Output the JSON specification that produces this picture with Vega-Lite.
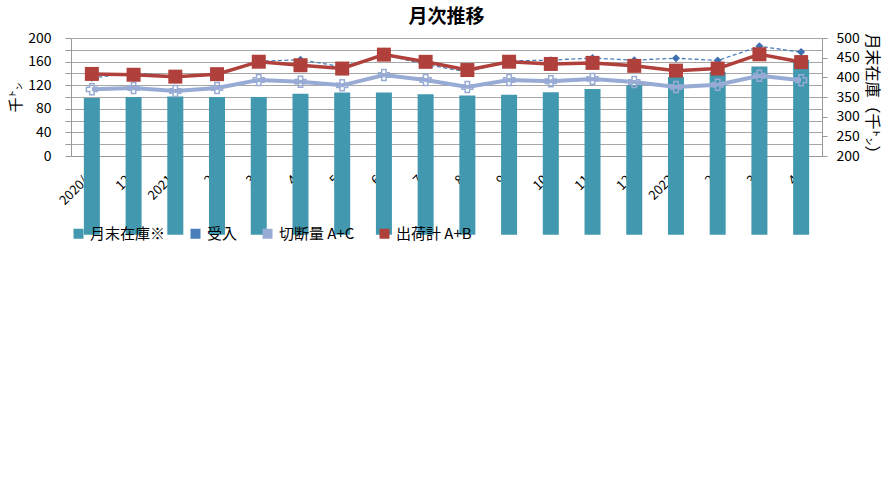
{
  "$schema": "https://vega.github.io/schema/vega-lite/v6.json",
  "width": 896,
  "height": 492,
  "autosize": {"type": "fit", "contains": "padding"},
  "padding": {"left": 8, "top": 8, "right": 16, "bottom": 8},
  "background": "white",
  "config": {
    "view": {"stroke": null},
    "axis": {"domainColor": "#999999", "tickColor": "#999999", "labelColor": "#000000", "titleColor": "#000000", "labelFont": "Noto Sans CJK JP", "titleFont": "Noto Sans CJK JP", "gridColor": "#a6a6a6"},
    "legend": {"labelFont": "Noto Sans CJK JP"}
  },
  "title": {"text": "月次推移", "font": "Noto Sans CJK JP", "fontSize": 19, "fontWeight": "bold", "color": "#000000"},
  "data": {"values": [
    {"m": "2020/11", "stock": 347.7, "uke": 132.5, "cut": 113.0, "ship": 139.1},
    {"m": "2020/12", "stock": 350.1, "uke": 140.9, "cut": 115.2, "ship": 137.7},
    {"m": "2021/1", "stock": 351.0, "uke": 135.0, "cut": 110.2, "ship": 134.5},
    {"m": "2021/2", "stock": 350.1, "uke": 138.5, "cut": 115.2, "ship": 138.7},
    {"m": "2021/3", "stock": 350.1, "uke": 160.5, "cut": 128.8, "ship": 159.8},
    {"m": "2021/4", "stock": 358.5, "uke": 163.2, "cut": 126.0, "ship": 153.8},
    {"m": "2021/5", "stock": 361.2, "uke": 151.2, "cut": 119.8, "ship": 148.2},
    {"m": "2021/6", "stock": 361.2, "uke": 171.5, "cut": 137.3, "ship": 171.8},
    {"m": "2021/7", "stock": 357.3, "uke": 155.2, "cut": 128.8, "ship": 159.6},
    {"m": "2021/8", "stock": 354.0, "uke": 142.3, "cut": 116.8, "ship": 145.7},
    {"m": "2021/9", "stock": 355.8, "uke": 161.2, "cut": 128.8, "ship": 159.8},
    {"m": "2021/10", "stock": 362.1, "uke": 162.4, "cut": 126.7, "ship": 156.0},
    {"m": "2021/11", "stock": 370.4, "uke": 166.0, "cut": 130.7, "ship": 157.8},
    {"m": "2021/12", "stock": 380.0, "uke": 162.4, "cut": 125.4, "ship": 152.8},
    {"m": "2022/1", "stock": 400.9, "uke": 165.8, "cut": 116.8, "ship": 144.7},
    {"m": "2022/2", "stock": 413.8, "uke": 161.8, "cut": 120.8, "ship": 148.2},
    {"m": "2022/3", "stock": 427.7, "uke": 185.9, "cut": 136.1, "ship": 172.4},
    {"m": "2022/4", "stock": 444.5, "uke": 176.1, "cut": 128.4, "ship": 159.2}
  ]},
  "layer": [
    {
      "mark": {"type": "bar", "color": "#4298AF", "width": 16},
      "encoding": {
        "x": {"field": "m", "type": "ordinal", "sort": null,
          "axis": {"title": null, "labelAngle": -45, "labelFontSize": 13, "tickSize": 6, "grid": false,
            "labelExpr": "slice(datum.value, -2) == '/1' || datum.value == '2020/11' ? datum.value : slice(datum.value, indexof(datum.value, '/') + 1) + '月'"}},
        "y": {"field": "stock", "type": "quantitative", "scale": {"domain": [200, 500], "zero": false, "nice": false},
          "axis": {"orient": "right", "values": [200, 250, 300, 350, 400, 450, 500], "grid": false, "tickSize": 5, "labelPadding": 9, "labelFontSize": 14,
            "title": "月末在庫（千㌧）", "titleFontSize": 16, "titleFontWeight": "normal"}}
      }
    },
    {
      "mark": {"type": "line", "color": "#4A7EBB", "strokeWidth": 1.3, "strokeDash": [4, 2.5]},
      "encoding": {
        "x": {"field": "m", "type": "ordinal", "sort": null},
        "y": {"field": "uke", "type": "quantitative", "scale": {"domain": [0, 200], "nice": false},
          "axis": {"orient": "left", "values": [0, 20, 40, 60, 80, 100, 120, 140, 160, 180, 200], "grid": true, "tickSize": 6, "labelPadding": 14, "labelFontSize": 14,
            "title": "千㌧", "titleFontSize": 15, "titleFontWeight": "normal"}}
      }
    },
    {
      "mark": {"type": "line", "color": "#98ABD5", "strokeWidth": 4},
      "encoding": {
        "x": {"field": "m", "type": "ordinal", "sort": null},
        "y": {"field": "cut", "type": "quantitative", "scale": {"domain": [0, 200], "nice": false}, "axis": null}
      }
    },
    {
      "mark": {"type": "line", "color": "#B0403C", "strokeWidth": 3.5},
      "encoding": {
        "x": {"field": "m", "type": "ordinal", "sort": null},
        "y": {"field": "ship", "type": "quantitative", "scale": {"domain": [0, 200], "nice": false}, "axis": null}
      }
    },
    {
      "mark": {"type": "point", "shape": "diamond", "filled": true, "color": "#3E6FB0", "size": 64, "opacity": 1},
      "encoding": {
        "x": {"field": "m", "type": "ordinal", "sort": null},
        "y": {"field": "uke", "type": "quantitative", "scale": {"domain": [0, 200], "nice": false}, "axis": null}
      }
    },
    {
      "mark": {"type": "point", "shape": "cross", "filled": false, "color": "#98ABD5", "strokeWidth": 1.5, "size": 120, "opacity": 1},
      "encoding": {
        "x": {"field": "m", "type": "ordinal", "sort": null},
        "y": {"field": "cut", "type": "quantitative", "scale": {"domain": [0, 200], "nice": false}, "axis": null}
      }
    },
    {
      "mark": {"type": "point", "shape": "square", "filled": true, "color": "#B0403C", "size": 196, "opacity": 1},
      "encoding": {
        "x": {"field": "m", "type": "ordinal", "sort": null},
        "y": {"field": "ship", "type": "quantitative", "scale": {"domain": [0, 200], "nice": false}, "axis": null}
      }
    },
    {
      "transform": [{"fold": ["stock", "uke", "cut", "ship"], "as": ["k", "v"]}],
      "mark": {"type": "point", "filled": true, "opacity": 0},
      "encoding": {
        "x": {"field": "m", "type": "ordinal", "sort": null},
        "y": {"field": "v", "type": "quantitative", "scale": {"domain": [0, 500], "nice": false}, "axis": null},
        "color": {"field": "k", "type": "nominal", "scale": {"domain": ["stock", "uke", "cut", "ship"], "range": ["#4298AF", "#4A7EBB", "#98ABD5", "#B0403C"]},
          "legend": {"orient": "bottom", "direction": "horizontal", "title": null, "symbolType": "square", "symbolOpacity": 1, "labelFontSize": 15, "labelColor": "#000000", "columnPadding": 22,
            "labelExpr": "datum.value == 'stock' ? '月末在庫※' : datum.value == 'uke' ? '受入' : datum.value == 'cut' ? '切断量 A+C' : '出荷計 A+B'"}}
      }
    }
  ],
  "resolve": {"scale": {"y": "independent"}}
}
